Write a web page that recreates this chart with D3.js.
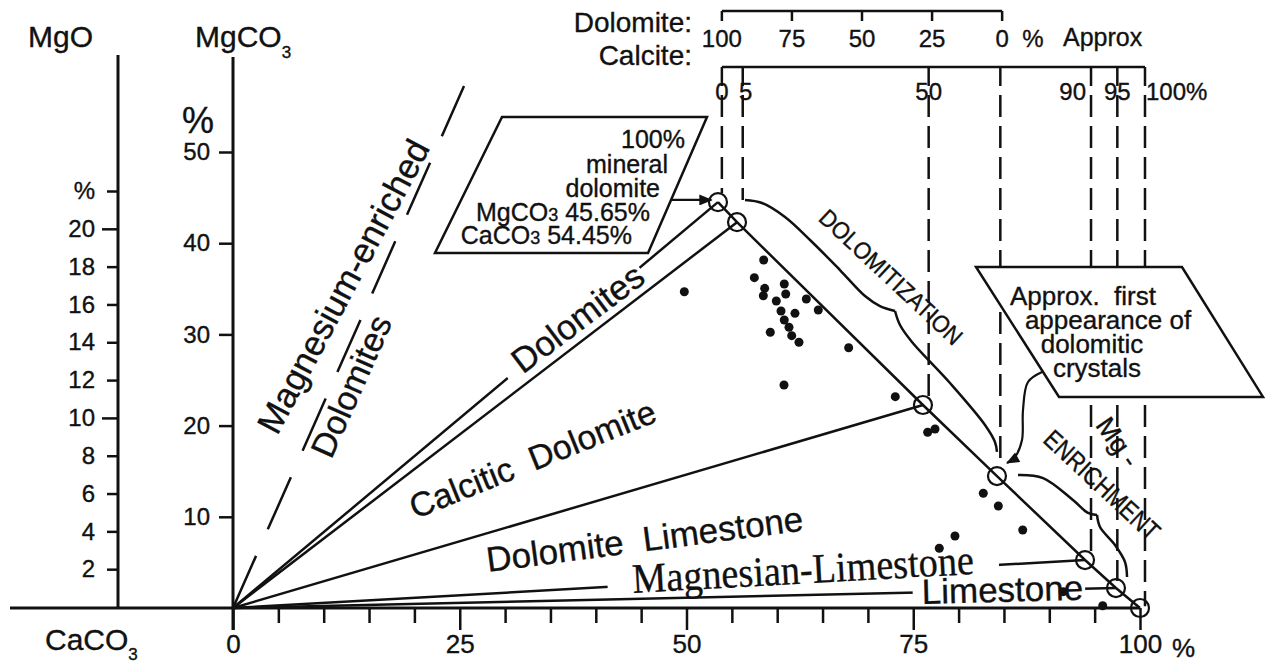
<!DOCTYPE html>
<html>
<head>
<meta charset="utf-8">
<script src="https://cdn.jsdelivr.net/npm/d3@7"></script>
<style>
  body { margin: 0; background: #fff; }
  svg { display: block; }
  text { font-family: "Liberation Sans", Arial, Helvetica, sans-serif; fill: #111; stroke: #111; stroke-width: 0.35px; }
  text.serif { font-family: "Liberation Serif", "Times New Roman", serif; }
</style>
</head>
<body>
<svg id="chart" width="1266" height="663"></svg>
<script>
// Reference compositions: CaCO3 % (x) and MgCO3 % (y)
const refX = [53.47, 55.57, 76.07, 84.23, 93.94, 97.35, 100];
const refY = [44.5, 42.3, 22.26, 14.47, 5.26, 2.19, 0];
// compositions joined to the origin as class boundaries
const boundaryIdx = [0, 1, 2, 4, 5];

// Analysed samples
const sampleX = [58.51, 57.48, 58.62, 58.47, 60.78, 60.94, 59.90, 63.21, 64.53, 60.42,
                 61.96, 60.78, 61.30, 61.60, 62.40, 59.24, 49.76, 67.88, 60.75, 73.02,
                 76.59, 77.40, 82.72, 84.38, 87.07, 79.60, 77.87, 91.54, 95.89];
const sampleY = [38.16, 36.22, 35.05, 34.24, 35.53, 34.43, 33.66, 33.88, 32.68, 32.57,
                 32.31, 31.58, 30.78, 29.86, 29.14, 30.23, 34.68, 28.54, 24.45, 23.17,
                 19.27, 19.63, 12.58, 11.18, 8.55, 7.89, 6.55, 1.79, 0.25];

// Axis ticks
const caTicks = d3.range(0, 101, 5);
const caMajor = [0, 25, 50, 75, 100];
const mgco3Ticks = [10, 20, 30, 40, 50];
const mgoTicks = [2, 4, 6, 8, 10, 12, 14, 16, 18, 20, 22];

// Mineral scales along the top
const dolomiteTicks = [100, 75, 50, 25, 0];
const dolomiteSpan = [53.9, 84.8];            // CaCO3 % under Dolomite 100 and 0
const calciteLabels = ["0", "5", "50", "", "90", "95", "100%"];
const calciteAt = [53.9, 56.2, 76.7, 84.6, 94.6, 97.5, 100.55]; // CaCO3 % of each calcite mark
const dropTo = [45.5, 44.74, 23.25, 15.46, 6.03, 2.96, 0.2];    // MgCO3 % where each projection stops

// Magnesium-enriched limit (dashed, from origin)
const mgLimit = [[0, 0], [25.47, 57.24]];

// Call-out boxes and their pointers (CaCO3 %, MgCO3 %)
const box1 = [[29.66, 53.84], [52.26, 53.84], [45.76, 38.93], [22.27, 38.93]];
const box1Arrow = [[48.40, 44.74], [52.75, 44.74]];
const box2 = [[81.92, 37.39], [104.63, 37.39], [113.56, 23.14], [91.07, 23.14]];
const box2Arrow = [[89.20, 25.88], [87.65, 24.78], [87.10, 21.71], [86.99, 18.42], [86.22, 16.56], [85.34, 15.90]];

// Braces: two halves meeting at the tip
const braceDolo = [
  [[56.45, 44.74], [58.32, 44.41], [60.86, 42.87], [63.62, 40.35], [66.92, 37.06], [69.68, 34.21], [71.33, 33.11], [72.99, 32.57]],
  [[72.99, 32.57], [73.54, 31.03], [74.86, 29.17], [79.05, 24.67], [82.91, 20.07], [84.01, 18.20], [84.23, 17.11]]
];
const braceMg = [
  [[86.55, 14.58], [89.31, 14.25], [92.61, 11.84], [94.27, 10.42], [95.26, 10.20]],
  [[95.26, 10.20], [95.59, 8.88], [97.24, 6.91], [98.35, 5.04], [98.57, 3.40]]
];

const ink = "#111";
const svg = d3.select("#chart");
const x = d3.scaleLinear().domain([0, 100]).range([233, 1140]);
const y = d3.scaleLinear().domain([0, 50]).range([608, 152]);
const yMgO = d3.scaleLinear().domain([0, 22]).range([607, 191]);
const dolo = d3.scaleLinear().domain([100, 0]).range(dolomiteSpan.map(x));
const line = d3.line().x(d => x(d[0])).y(d => y(d[1]));
const curve = d3.line().x(d => x(d[0])).y(d => y(d[1])).curve(d3.curveCatmullRom);

const defs = svg.append("defs");
defs.append("marker").attr("id", "head")
  .attr("viewBox", "0 0 12 10").attr("refX", 11).attr("refY", 5)
  .attr("markerWidth", 15).attr("markerHeight", 11)
  .attr("markerUnits", "userSpaceOnUse").attr("orient", "auto")
  .append("path").attr("d", "M0,0L12,5L0,10Z").attr("fill", ink);

const base = svg.append("g").attr("stroke", ink).attr("fill", "none");

// ---- axes ----
base.append("line").attr("x1", 10).attr("x2", x(100)).attr("y1", y(0)).attr("y2", y(0)).attr("stroke-width", 3);
base.append("line").attr("x1", 118).attr("x2", 118).attr("y1", 55).attr("y2", y(0)).attr("stroke-width", 3);
base.append("line").attr("x1", x(0)).attr("x2", x(0)).attr("y1", 57).attr("y2", y(0) + 22).attr("stroke-width", 3);

const gx = svg.append("g").attr("transform", `translate(0,${y(0)})`)
  .call(d3.axisBottom(x).tickValues(caTicks).tickSize(15).tickFormat(d => caMajor.includes(d) ? d : ""));
gx.select(".domain").remove();
gx.selectAll(".tick line").attr("stroke", ink).attr("stroke-width", 2.5)
  .attr("y2", d => caMajor.includes(d) ? 22 : 15);
gx.selectAll(".tick text").attr("y", 27).attr("font-size", 26).attr("font-family", null);
svg.append("text").attr("x", x(100) + 32).attr("y", 657).attr("font-size", 26).text("%");

const gy = svg.append("g").attr("transform", `translate(${x(0)},0)`)
  .call(d3.axisLeft(y).tickValues(mgco3Ticks).tickSize(14).tickPadding(9));
gy.select(".domain").remove();
gy.selectAll(".tick line").attr("stroke", ink).attr("stroke-width", 2.5);
gy.selectAll(".tick text").attr("font-size", 24).attr("font-family", null);

const gm = svg.append("g").attr("transform", "translate(118,0)")
  .call(d3.axisLeft(yMgO).tickValues(mgoTicks).tickSize(11).tickPadding(12)
    .tickFormat(d => d === 22 ? "%" : d));
gm.select(".domain").remove();
gm.selectAll(".tick line").attr("stroke", ink).attr("stroke-width", 2.5)
  .attr("x2", d => d % 10 === 0 ? -16 : -11);
gm.selectAll(".tick text").attr("font-size", 24).attr("font-family", null);

// axis titles
svg.append("text").attr("x", 28).attr("y", 47).attr("font-size", 30).text("MgO");
const t1 = svg.append("text").attr("x", 195).attr("y", 47).attr("font-size", 30).text("MgCO");
t1.append("tspan").attr("font-size", 17).attr("dy", 11).text("3");
const t2 = svg.append("text").attr("x", 45).attr("y", 650).attr("font-size", 30).text("CaCO");
t2.append("tspan").attr("font-size", 17).attr("dy", 10).text("3");
svg.append("text").attr("x", 198).attr("y", 133).attr("font-size", 36).attr("text-anchor", "middle").text("%");

// ---- top mineral scales ----
svg.append("text").attr("x", 692).attr("y", 32).attr("font-size", 28).attr("text-anchor", "end").text("Dolomite:");
svg.append("text").attr("x", 692).attr("y", 65).attr("font-size", 28).attr("text-anchor", "end").text("Calcite:");
base.append("line").attr("x1", dolo(100)).attr("x2", dolo(0)).attr("y1", 11).attr("y2", 11).attr("stroke-width", 2.5);
base.selectAll(".dtick").data(dolomiteTicks).join("line")
  .attr("x1", d => dolo(d)).attr("x2", d => dolo(d)).attr("y1", 11).attr("y2", 21).attr("stroke-width", 2.5);
svg.selectAll(".dlab").data(dolomiteTicks).join("text")
  .attr("x", d => dolo(d)).attr("y", 47).attr("font-size", 24).attr("text-anchor", "middle").text(d => d);
svg.append("text").attr("x", 1033).attr("y", 47).attr("font-size", 24).attr("text-anchor", "middle").text("%");
svg.append("text").attr("x", 1063).attr("y", 46).attr("font-size", 25).text("Approx");

base.append("line").attr("x1", x(calciteAt[0])).attr("x2", x(calciteAt[calciteAt.length - 1]))
  .attr("y1", 67).attr("y2", 67).attr("stroke-width", 2.5);
base.selectAll(".ctick").data(calciteAt).join("line")
  .attr("x1", d => x(d)).attr("x2", d => x(d)).attr("y1", 67).attr("y2", 86).attr("stroke-width", 2.5);
base.selectAll(".drop").data(calciteAt).join("line")
  .attr("x1", d => x(d)).attr("x2", d => x(d)).attr("y1", 95).attr("y2", (d, i) => y(dropTo[i]))
  .attr("stroke-width", 2.5).attr("stroke-dasharray", "22,9");
svg.selectAll(".clab").data(calciteLabels).join("text")
  .attr("x", (d, i) => x(calciteAt[i]) + (i === 1 ? 3 : i === 4 ? -5 : i === 6 ? 1 : 0))
  .attr("y", 100).attr("font-size", 24)
  .attr("text-anchor", (d, i) => i === 4 ? "end" : i === 6 ? "start" : "middle")
  .text(d => d);

// ---- class boundaries ----
base.selectAll(".ray").data(boundaryIdx).join("line")
  .attr("x1", x(0)).attr("y1", y(0))
  .attr("x2", i => x(refX[i])).attr("y2", i => y(refY[i])).attr("stroke-width", 2.5);
base.append("path").attr("d", line(refX.map((v, i) => [v, refY[i]]))).attr("stroke-width", 2.5);
base.append("path").attr("d", line(mgLimit)).attr("stroke-width", 2.5).attr("stroke-dasharray", "57,29");

// ---- labels ----
const labels = svg.append("g");
function label(str, px, py, rot, size, o = {}) {
  const g = labels.append("g").attr("transform", `translate(${px},${py}) rotate(${rot})`);
  const t = g.append("text").text(str).attr("font-size", size)
    .attr("text-anchor", o.anchor || "middle").style("white-space", "pre");
  if (o.cls) t.attr("class", o.cls);
  if (o.central) t.attr("dy", "0.35em");
  if (o.len) t.attr("textLength", o.len).attr("lengthAdjust", "spacingAndGlyphs");
  if (o.bg) {
    const b = t.node().getBBox();
    g.insert("rect", "text").attr("x", b.x - o.bg[0]).attr("y", o.bg[2])
      .attr("width", b.width + o.bg[0] + o.bg[1]).attr("height", o.bg[3] - o.bg[2]).attr("fill", "#fff");
  }
  return t;
}
label("Magnesium-enriched", 354, 292, -62, 35);
label("Dolomites", 362, 391, -66, 34);
label("Dolomites", 585, 328, -37, 35, { bg: [14, 2, -27, 1] });
label("Calcitic  Dolomite", 537, 470, -22, 34);
label("Dolomite  Limestone", 488, 572, -7.5, 35, { anchor: "start" });
label("Magnesian-Limestone", 633, 593, -3.2, 42, { anchor: "start", cls: "serif", len: 342, bg: [25, 25, -31, 1] });
label("Limestone", 922, 604, -1.5, 35, { anchor: "start", bg: [9, 2, -27, -3] });
label("DOLOMITIZATION", 891, 277, 43, 24, { central: true, len: 186 });
label("ENRICHMENT", 1102, 485, 43, 26, { central: true, len: 148 });
label("Mg -", 1118, 442, 55, 27, { central: true });

// ---- reference points and samples ----
svg.append("g").selectAll("circle").data(refX).join("circle")
  .attr("cx", d => x(d)).attr("cy", (d, i) => y(refY[i])).attr("r", 9)
  .attr("fill", "none").attr("stroke", ink).attr("stroke-width", 2.2);
svg.append("g").selectAll("circle").data(sampleX).join("circle")
  .attr("cx", d => x(d)).attr("cy", (d, i) => y(sampleY[i])).attr("r", 4.5).attr("fill", ink);

// ---- call-outs ----
const ann = svg.append("g");
ann.append("path").attr("d", line(box1) + "Z").attr("fill", "#fff").attr("stroke", ink).attr("stroke-width", 2.5);
ann.append("path").attr("d", line(box2) + "Z").attr("fill", "#fff").attr("stroke", ink).attr("stroke-width", 2.5);
ann.append("path").attr("d", line(box1Arrow)).attr("fill", "none").attr("stroke", ink)
  .attr("stroke-width", 2.2).attr("marker-end", "url(#head)");
ann.append("path").attr("d", curve(box2Arrow)).attr("fill", "none").attr("stroke", ink)
  .attr("stroke-width", 2.2).attr("marker-end", "url(#head)");
[braceDolo, braceMg].forEach(br => br.forEach(half =>
  ann.append("path").attr("d", curve(half)).attr("fill", "none").attr("stroke", ink).attr("stroke-width", 2.5)));

const box1Lines = [["100%", 685, 148], ["mineral", 668, 173], ["dolomite", 660, 197]];
box1Lines.forEach(([s, px, py]) =>
  ann.append("text").attr("x", px).attr("y", py).attr("font-size", 25).attr("text-anchor", "end").text(s));
[["MgCO", "45.65%", 650, 221], ["CaCO", "54.45%", 632, 244]].forEach(([a, b, px, py]) => {
  const t = ann.append("text").attr("x", px).attr("y", py).attr("font-size", 25).attr("text-anchor", "end");
  t.append("tspan").text(a);
  t.append("tspan").attr("font-size", 18).text("3");
  t.append("tspan").text(" " + b);
});
[["Approx.  first", 1083, 305], ["appearance of", 1108, 329], ["dolomitic", 1092, 353], ["crystals", 1097, 377]]
  .forEach(([s, px, py]) => ann.append("text").attr("x", px).attr("y", py).attr("font-size", 26)
    .attr("text-anchor", "middle").style("white-space", "pre").text(s));
</script>
</body>
</html>
